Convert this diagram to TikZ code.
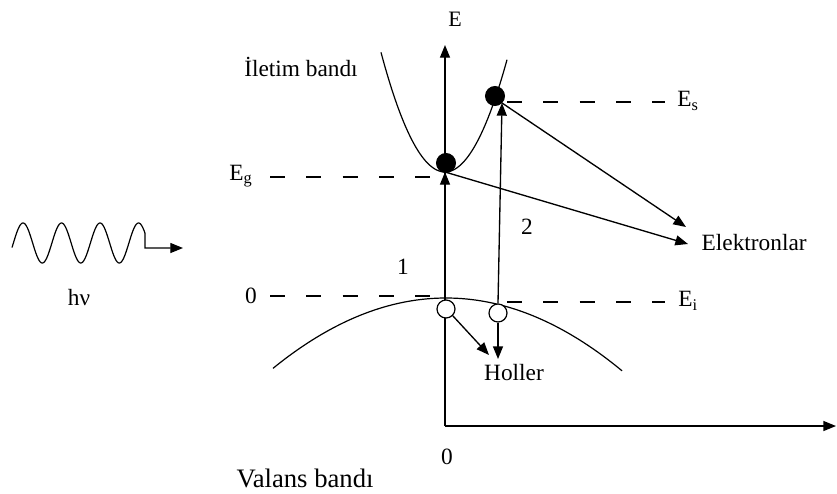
\documentclass[tikz,border=0pt]{standalone}
\usepackage{fontspec}
\setmainfont{Liberation Serif}
\usetikzlibrary{arrows.meta}
\begin{document}
\begin{tikzpicture}[x=0.75pt,y=-0.75pt,
  line width=1pt,
  tip/.style={-{Triangle[length=9.5pt,width=7.5pt]}},
  lvl/.style={dash pattern=on 11.25pt off 16pt, line width=0.9pt},
  lbl/.style={inner sep=0pt, font=\fontsize{17.5}{20}\selectfont},
  electron/.style={circle, fill=black, draw=black, minimum size=14pt, inner sep=0pt},
  hole/.style={circle, fill=white, draw=black, line width=0.9pt, minimum size=13.5pt, inner sep=0pt}]
\useasboundingbox (0,0) rectangle (837,493);

% axes
\coordinate (O) at (445,426);
\coordinate (Etop) at (445,45);
\coordinate (Xend) at (836,426);
\draw[tip] (O) -- (Etop);
\draw[tip] (O) -- (Xend);
\node[lbl, font=\fontsize{16.5}{18}\selectfont] (Elab) at (455,19) {E};
\node[lbl] (zeroX) at (447,457) {0};
\node[lbl, font=\fontsize{20}{22}\selectfont] (valans) at (305,478) {Valans bandı};

% conduction band
\draw[line width=0.9pt] plot[domain=381:507, samples=80, smooth] (\x, {172-0.0292*(\x-445)*(\x-445)});
\node[lbl] (iletim) at (301,67) {İletim bandı};

% valence band
\draw[line width=0.9pt] plot[domain=273:622, samples=80, smooth] (\x, {298+0.00235*(\x-446)*(\x-446)});

% levels
\coordinate (egL) at (270,177);
\coordinate (egR) at (440,177);
\draw[lvl] (egL) -- (egR);
\node[lbl] (Eg) at (241,176) {E\textsubscript{g}};
\coordinate (esL) at (507,102);
\coordinate (esR) at (665,102);
\draw[lvl] (esL) -- (esR);
\node[lbl] (Es) at (688,101) {E\textsubscript{s}};
\coordinate (zL) at (270,296);
\coordinate (zR) at (440,296);
\draw[lvl] (zL) -- (zR);
\node[lbl] (zeroY) at (251,296) {0};
\coordinate (eiL) at (507,302);
\coordinate (eiR) at (665,302);
\draw[lvl] (eiL) -- (eiR);
\node[lbl] (Ei) at (688,301) {E\textsubscript{i}};

% electrons and holes
\node[electron] (e1) at (446,163) {};
\node[electron] (e2) at (495,96) {};
\node[hole] (h1) at (446,309) {};
\node[hole] (h2) at (498,313) {};

\coordinate (eg) at (445,172);
\coordinate (es) at (502,103);
\coordinate (a1s) at (445,300);
\draw[tip] (a1s) -- (eg);
\coordinate (a2s) at (498,303);
\draw[tip] (a2s) -- (es);
\node[lbl] (n1) at (403,267) {1};
\node[lbl] (n2) at (527,227) {2};

% electron transitions
\coordinate (t1) at (688,244);
\coordinate (t2) at (686,227);
\draw[tip] (eg) -- (t1);
\draw[tip] (es) -- (t2);
\node[lbl, anchor=west] (elek) at (701,243) {Elektronlar};

% hole transitions
\coordinate (hh1) at (489,355);
\coordinate (hh2) at (498,359);
\draw[tip] (h1.-45) -- (hh1);
\draw[tip] (h2.south) -- (hh2);
\node[lbl] (holler) at (514,373) {Holler};

% photon
\draw[line width=0.9pt] plot[domain=12:145, samples=200, smooth] (\x, {243-20*sin(9.3506*(\x-13.4))}) coordinate (wend);
\coordinate (wdown) at (145,248);
\coordinate (wtip) at (183,248);
\draw[tip, line width=0.9pt] (wend) -- (wdown) -- (wtip);
\node[lbl] (hnu) at (79,298) {hν};
\end{tikzpicture}
\end{document}
